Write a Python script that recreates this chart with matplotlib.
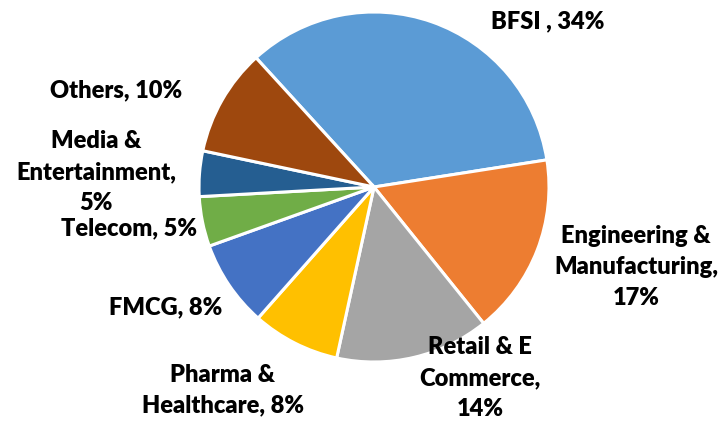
import matplotlib
matplotlib.use("Agg")
import matplotlib.pyplot as plt

categories = ["BFSI", "Engineering & Manufacturing", "Retail & E Commerce",
              "Pharma & Healthcare", "FMCG", "Telecom", "Media & Entertainment", "Others"]
values = [34.3, 16.7, 14.2, 8.1, 8.0, 4.6, 4.2, 9.9]
labels = ["BFSI , 34%", "Engineering &\nManufacturing,\n17%", "Retail & E\nCommerce,\n14%",
          "Pharma &\nHealthcare, 8%", "FMCG, 8%", "Telecom, 5%",
          "Media &\nEntertainment,\n5%", "Others, 10%"]
colors = ["#5B9BD5", "#ED7D31", "#A5A5A5", "#FFC000", "#4472C4", "#70AD47", "#255E91", "#9E480E"]

W, H = 721, 421
cx, cy, R = 374, 187, 175

fig = plt.figure(figsize=(W / 100, H / 100), dpi=100)
ax = fig.add_axes([0, 0, 1, 1])
ax.pie(values, colors=colors, startangle=132.4, counterclock=False,
       wedgeprops=dict(edgecolor="white", linewidth=2.2))
ax.set_xlim(-cx / R, (W - cx) / R)
ax.set_ylim(-(H - cy) / R, cy / R)
ax.set_aspect("equal")
ax.axis("off")

# label positions (pixel centres in the reference)
label_pos = [(548, 21), (636, 267), (480, 378), (223, 390), (166, 307),
             (129, 228), (96, 172), (116, 90)]
for lab, (px, py) in zip(labels, label_pos):
    ax.text((px - cx) / R, (cy - py) / R, lab, ha="center", va="center",
            fontsize=17, fontweight="heavy", family=["Lato", "DejaVu Sans"],
            linespacing=1.5, color="#000000")

fig.savefig("out.png", dpi=100)
